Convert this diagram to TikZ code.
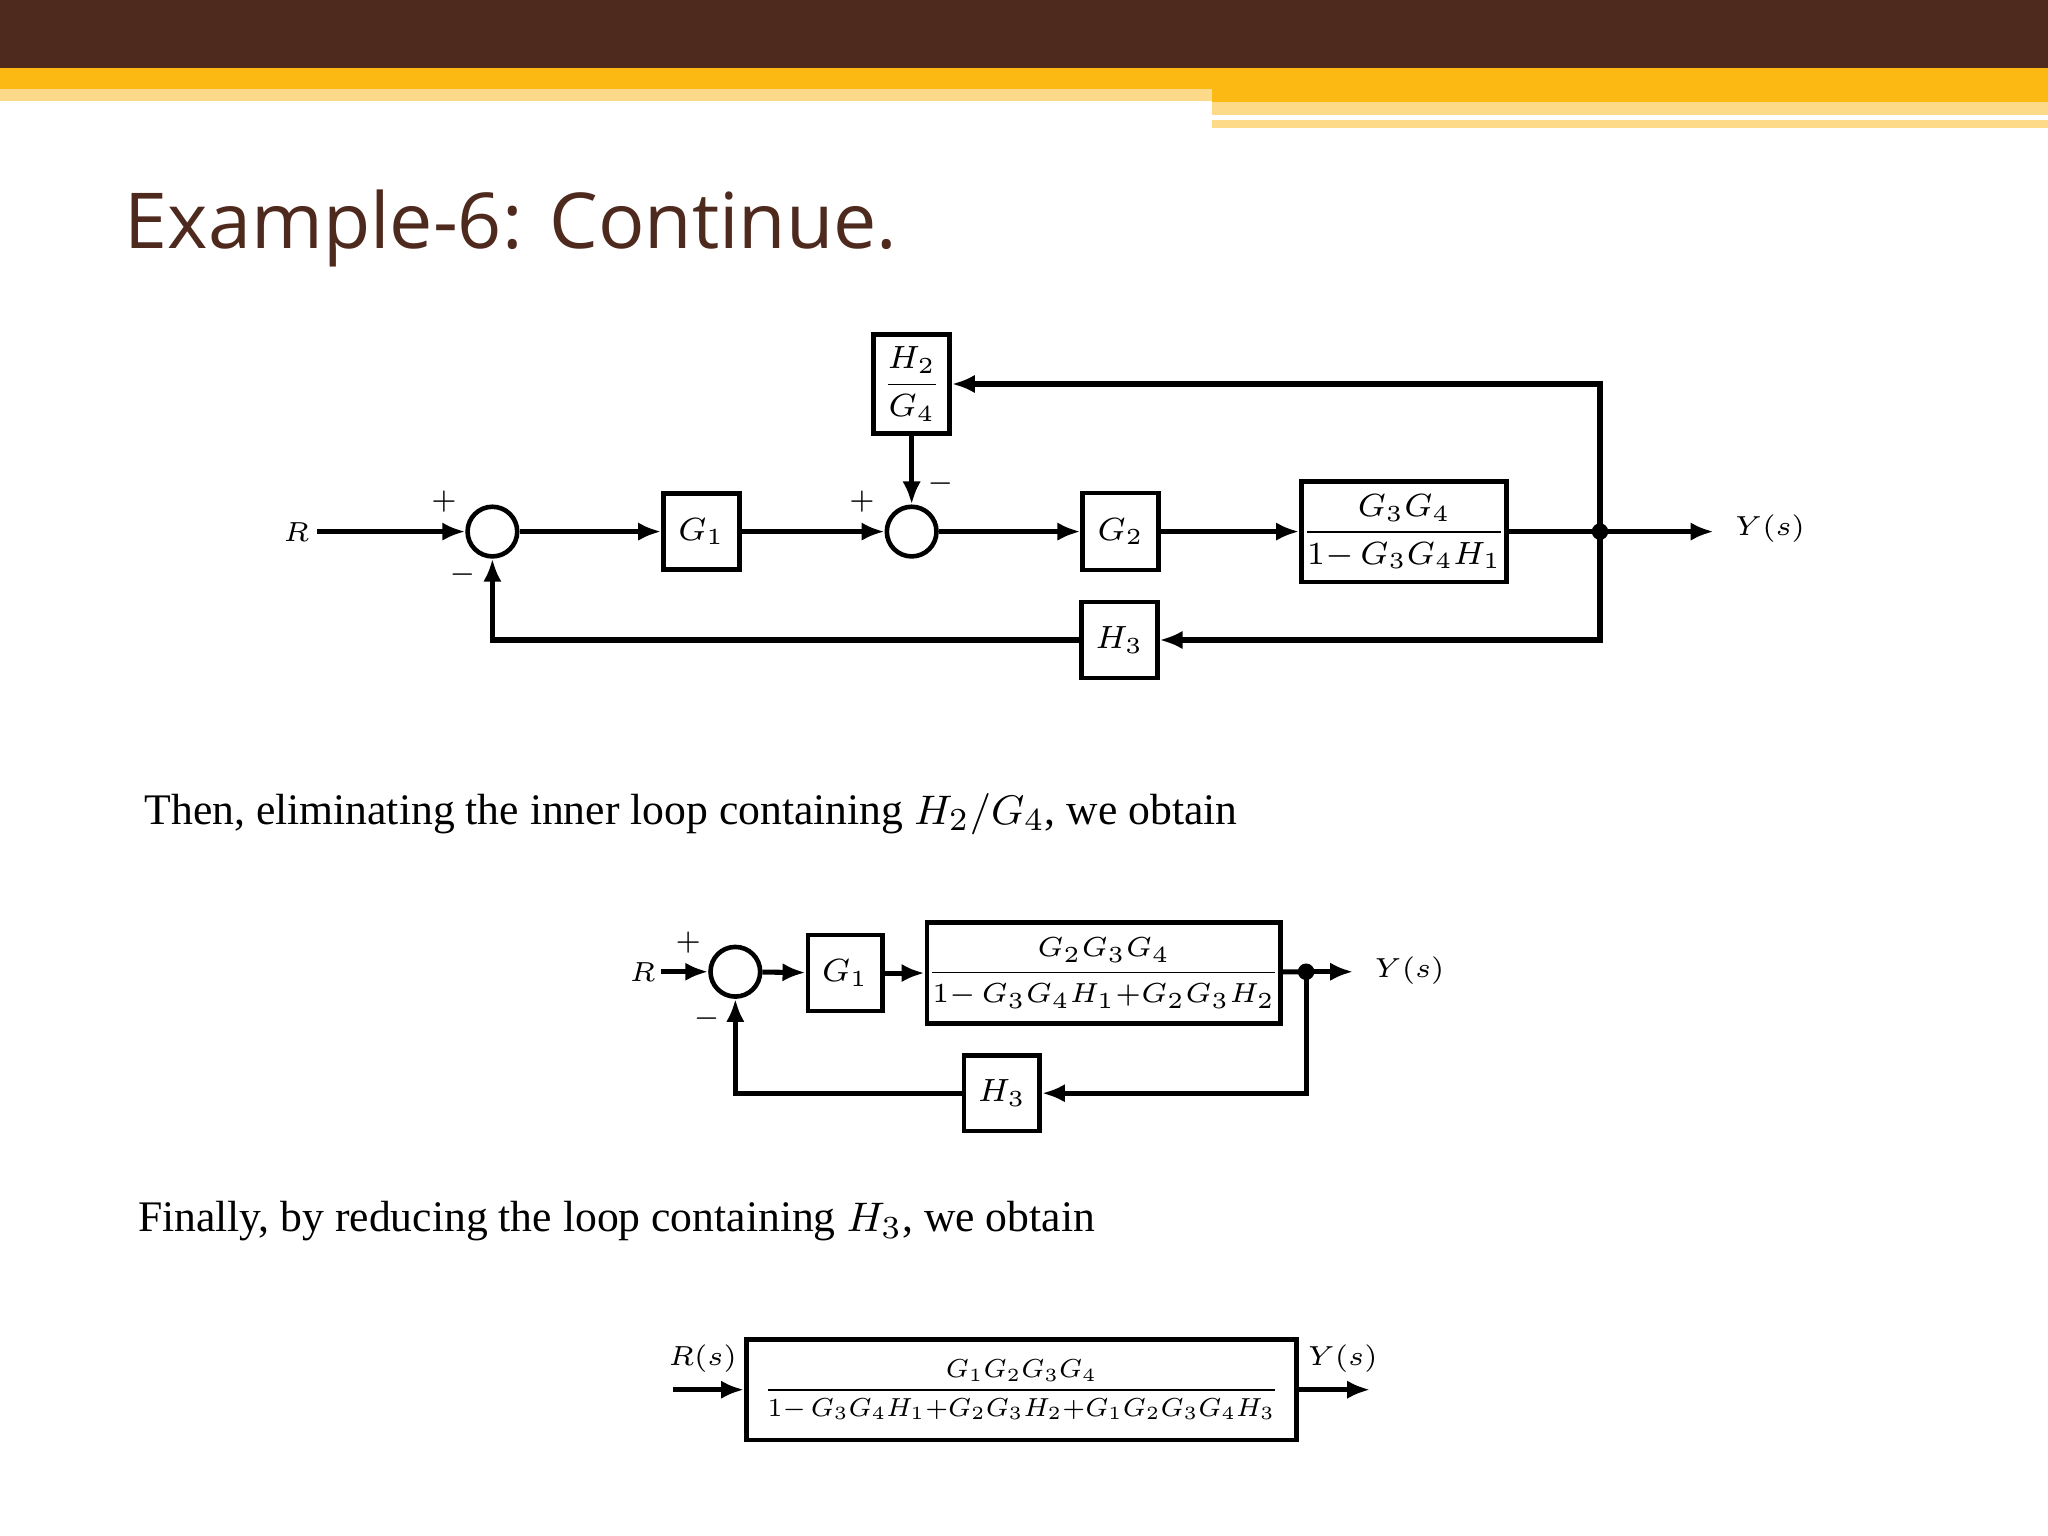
\documentclass[tikz,border=0pt]{standalone}
\usepackage{amsmath}
\usepackage{graphicx}
\usepackage{fontspec}
\setmainfont{Liberation Serif}
\newfontfamily\titlefont{Open Sans}
\usetikzlibrary{arrows.meta}
\definecolor{brn}{HTML}{4E2A1E}
\definecolor{yel}{HTML}{FDB913}
\definecolor{lyel}{HTML}{FDD98A}
\begin{document}
\begin{tikzpicture}[x=0.01cm,y=-0.01cm,
  blk/.style={draw,line width=1pt,inner sep=0pt,font=\fontsize{7}{8}\selectfont},
  sumj/.style={draw,circle,line width=1pt,minimum size=0.38cm,inner sep=0pt},
  sig/.style={line width=1.1pt,-{Latex[length=5pt,width=4pt]}},
  ln/.style={line width=1.1pt},
  lab/.style={font=\fontsize{6.5}{7}\selectfont},
  txt/.style={anchor=base west,inner sep=0pt,font=\fontsize{9.5}{11}\selectfont}]
\useasboundingbox (0,0) rectangle (1568,1176);
\fill[white] (0,0) rectangle (1568,1176);
% header
\fill[brn] (0,0) rectangle (1568,52);
\fill[yel] (0,52) rectangle (1568,68);
\fill[lyel] (0,68) rectangle (928,77);
\fill[yel] (928,68) rectangle (1568,78);
\fill[lyel] (928,78) rectangle (1568,88);
\fill[lyel] (928,92) rectangle (1568,98);
\node[anchor=base west,inner sep=0pt,text=brn,font=\titlefont\fontsize{16.8}{20}\selectfont] (title) at (95,190) {Example-6: Continue.};
% diagram 1
\node[lab] (R1) at (227,407) {$R$};
\node[sumj] (s1) at (377,407) {};
\node[blk,minimum width=0.58cm,minimum height=0.58cm] (G1) at (537,407) {$G_1$};
\node[sumj] (s2) at (698,407) {};
\node[blk,minimum width=0.58cm,minimum height=0.76cm] (HG) at (698,294) {$\dfrac{H_2}{G_4}$};
\node[blk,minimum width=0.58cm,minimum height=0.59cm] (G2) at (858,407) {$G_2$};
\node[blk,minimum width=1.54cm,minimum height=0.77cm] (F1) at (1075,407) {$\dfrac{G_3G_4}{1{-}\,G_3G_4H_1}$};
\node[blk,minimum width=0.58cm,minimum height=0.58cm] (H3) at (857,490) {$H_3$};
\coordinate (b1) at (1225,407);
\coordinate (y1) at (1312,407);
\node[lab,anchor=west] (Y1) at (1316,405) {$Y(s)$};
\fill (b1) circle (1.8pt);
\draw[sig] (243,407) -- (s1);
\draw[sig] (s1) -- (G1);
\draw[sig] (G1) -- (s2);
\draw[sig] (s2) -- (G2);
\draw[sig] (G2) -- (F1);
\draw[ln] (F1) -- (b1);
\draw[sig] (b1) -- (y1);
\draw[sig] (b1) |- (HG.east);
\draw[sig] (HG) -- (s2);
\draw[sig] (b1) |- (H3.east);
\draw[sig] (H3.west) -| (s1);
\node[lab] at (340,384) {$+$};
\node[lab] at (354,440) {$-$};
\node[lab] at (660,384) {$+$};
\node[lab] at (720,370) {$-$};
\node[txt] (t1) at (110,631) {Then, eliminating the inner loop containing $H_2/G_4$, we obtain};
% diagram 2
\node[lab] (R2) at (492,744) {$R$};
\node[sumj] (s3) at (563,744) {};
\node[blk,minimum width=0.57cm,minimum height=0.58cm] (G1b) at (647,745) {$G_1$};
\node[blk,minimum width=2.69cm,minimum height=0.77cm,font=\fontsize{6.2}{7}\selectfont] (F2) at (845,745) {$\dfrac{G_2G_3G_4}{1{-}\,G_3G_4H_1{+}G_2G_3H_2}$};
\node[blk,minimum width=0.58cm,minimum height=0.58cm] (H3b) at (767,837) {$H_3$};
\coordinate (b2) at (1000,744);
\coordinate (y2) at (1036,744);
\node[lab,anchor=west] (Y2) at (1040,743) {$Y(s)$};
\fill (b2) circle (1.8pt);
\draw[sig] (506,744) -- (s3);
\draw[sig] (s3) -- (G1b);
\draw[sig] (G1b) -- (F2);
\draw[ln] (F2) -- (b2);
\draw[sig] (b2) -- (y2);
\draw[sig] (b2) |- (H3b.east);
\draw[sig] (H3b.west) -| (s3);
\node[lab] at (527,722) {$+$};
\node[lab] at (541,780) {$-$};
\node[txt] (t2) at (105,943) {Finally, by reducing the loop containing $H_3$, we obtain};
% diagram 3
\node[blk,minimum width=4.21cm,minimum height=0.77cm] (F3) at (782,1064) {\resizebox{3.95cm}{!}{$\dfrac{G_1G_2G_3G_4}{1{-}\,G_3G_4H_1{+}G_2G_3H_2{+}G_1G_2G_3G_4H_3}$}};
\coordinate (in3) at (515,1064);
\coordinate (out3) at (1049,1064);
\draw[sig] (in3) -- (F3.west);
\draw[sig] (F3.east) -- (out3);
\node[lab] (R3) at (538,1040) {$R(s)$};
\node[lab] (Y3) at (1028,1040) {$Y(s)$};
\end{tikzpicture}
\end{document}
